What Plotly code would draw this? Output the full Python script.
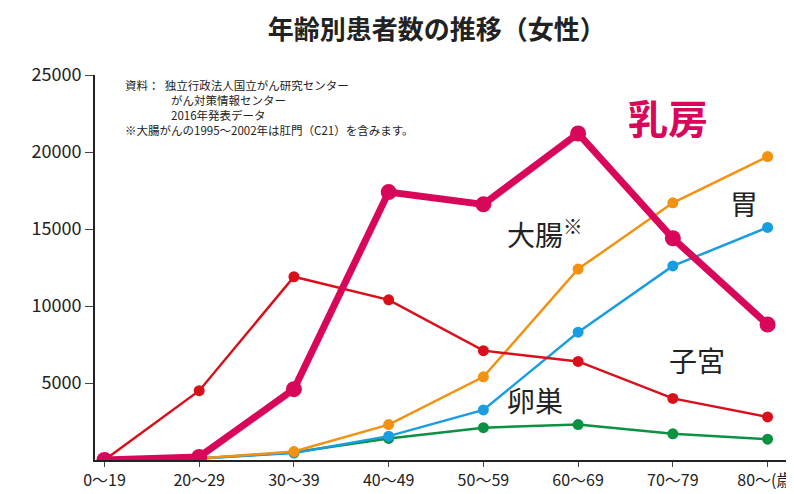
import plotly.graph_objects as go

ages = ["0〜19", "20〜29", "30〜39", "40〜49", "50〜59", "60〜69", "70〜79", "80〜(歳)"]
breast = [0, 200, 4600, 17400, 16600, 21200, 14400, 8800]
uterus = [0, 4500, 11900, 10400, 7100, 6400, 4000, 2800]
stomach = [0, 100, 550, 2300, 5400, 12400, 16700, 19700]
colon = [0, 100, 450, 1550, 3250, 8300, 12600, 15100]
ovary = [0, 100, 500, 1400, 2100, 2300, 1700, 1350]

x = list(range(len(ages)))
FONT = "Noto Sans CJK JP"

fig = go.Figure()
def add(y, color, width, size, start=0):
    fig.add_trace(go.Scatter(x=x[start:], y=y[start:], mode="lines+markers",
                             line=dict(color=color, width=width),
                             marker=dict(color=color, size=size)))

add(ovary, "#0a9142", 2.5, 11, 1)
add(colon, "#1a9de0", 2.5, 11, 1)
add(stomach, "#f39110", 2.5, 11, 1)
add(uterus, "#d9101c", 2.5, 11)
add(breast, "#d9075a", 7, 16)

ann = [
    (5.95, 22300, "<b>乳房</b>", 40, "#d9075a"),
    (6.75, 16700, "胃", 28, "#222"),
    (4.65, 14800, "大腸<sup>※</sup>", 28, "#222"),
    (6.25, 6500, "子宮", 28, "#222"),
    (4.55, 3900, "卵巣", 28, "#222"),
]
for ax, ay, t, s, c in ann:
    fig.add_annotation(x=ax, y=ay, text=t, showarrow=False,
                       font=dict(size=s, color=c, family=FONT))

fig.add_annotation(x=0.04, y=1.0, xref="paper", yref="paper", xanchor="left", yanchor="top",
                   align="left", showarrow=False,
                   text="資料：  独立行政法人国立がん研究センター<br>　　　　がん対策情報センター<br>"
                        "　　　　2016年発表データ<br>※大腸がんの1995〜2002年は肛門（C21）を含みます。",
                   font=dict(size=11.5, color="#222", family=FONT))

fig.update_layout(
    width=794, height=494, showlegend=False,
    plot_bgcolor="white", paper_bgcolor="white",
    margin=dict(l=87, r=4, t=67, b=42),
    title=dict(text="<b>年齢別患者数の推移（女性）</b>", x=0.54, y=0.975, yanchor="top",
               font=dict(size=26, color="#222", family=FONT)),
    font=dict(family="Liberation Sans Narrow, " + FONT, color="#222"),
    xaxis=dict(range=[-0.1, 7.3], tickvals=x, ticktext=ages,
               showgrid=False, showline=True, linecolor="#222", linewidth=2,
               ticks="outside", ticklen=5, tickfont=dict(size=16)),
    yaxis=dict(range=[0, 25000], tickvals=[5000, 10000, 15000, 20000, 25000],
               tickformat="d",
               showgrid=False, showline=True, linecolor="#222", linewidth=2,
               ticks="outside", ticklen=8, tickfont=dict(size=18)),
)

fig.write_html("out.html")
